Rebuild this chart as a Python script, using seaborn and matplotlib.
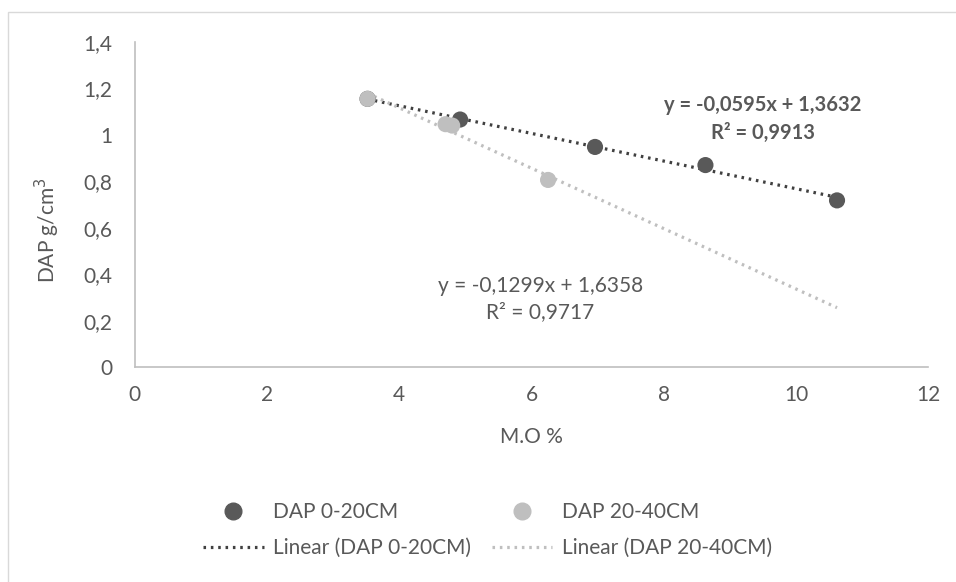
import numpy as np
import pandas as pd
import seaborn as sns
import matplotlib.pyplot as plt
from matplotlib.lines import Line2D

# Data
mo_0_20 = [3.52, 4.92, 6.96, 8.63, 10.62]
dap_0_20 = [1.155, 1.066, 0.948, 0.870, 0.718]
mo_20_40 = [3.52, 4.70, 4.80, 6.25]
dap_20_40 = [1.155, 1.046, 1.040, 0.806]

# Trendline coefficients (from the equations on the chart) and their x-span
slope_0_20, icpt_0_20 = -0.0595, 1.3632
slope_20_40, icpt_20_40 = -0.1299, 1.6358
trend_x = [3.52, 10.62]

dark = '#595959'
light = '#BFBFBF'
text_col = '#595959'
dots = (0, (0.8, 1.5))

df1 = pd.DataFrame({'x': mo_0_20, 'y': dap_0_20})
df2 = pd.DataFrame({'x': mo_20_40, 'y': dap_20_40})
tx = np.array(trend_x)
t1 = pd.DataFrame({'x': tx, 'y': slope_0_20 * tx + icpt_0_20})
t2 = pd.DataFrame({'x': tx, 'y': slope_20_40 * tx + icpt_20_40})

sns.set_style('white')
plt.rcParams['font.family'] = ['Lato', 'DejaVu Sans']

fig = plt.figure(figsize=(9.56, 5.82), dpi=100)
ax = fig.add_axes([0.141, 0.369, 0.830, 0.559])

# trendlines
sns.lineplot(data=t1, x='x', y='y', ax=ax, color='#404040', linestyle=dots,
             linewidth=2.3, zorder=2)
sns.lineplot(data=t2, x='x', y='y', ax=ax, color=light, linestyle=dots,
             linewidth=2.3, zorder=2)

# points
sns.scatterplot(data=df1, x='x', y='y', ax=ax, color=dark, s=135, edgecolor='none', zorder=3)
sns.scatterplot(data=df2, x='x', y='y', ax=ax, color=light, s=135, edgecolor='none', zorder=4)

ax.set_xlim(0, 12)
ax.set_ylim(0, 1.4)
ax.set_xticks(range(0, 13, 2))
yt = np.arange(0, 1.41, 0.2)
ax.set_yticks(yt)
ax.set_yticklabels(['0' if v == 0 else ('1' if abs(v - 1) < 1e-9 else f'{v:.1f}'.replace('.', ','))
                    for v in yt])
ax.tick_params(axis='both', colors=text_col, labelsize=15, length=0)
ax.tick_params(axis='x', pad=13)
ax.tick_params(axis='y', pad=16)
for side in ['top', 'right']:
    ax.spines[side].set_visible(False)
for side in ['left', 'bottom']:
    ax.spines[side].set_color('#BFBFBF')
    ax.spines[side].set_linewidth(1.2)

ax.set_xlabel('M.O %', color=text_col, fontsize=15)
ax.set_ylabel('DAP g/cm$^3$', color=text_col, fontsize=15)
ax.xaxis.set_label_coords(0.5, -0.215)
ax.xaxis.label.set_va('center')
ax.yaxis.set_label_coords(-0.11, 0.42)
ax.yaxis.label.set_va('center')

# equation labels
ax.text(9.5, 1.07, 'y = -0,0595x + 1,3632\nR² = 0,9913', ha='center', va='center',
        fontsize=14.5, fontweight='bold', color=text_col, linespacing=1.5)
ax.text(6.13, 0.293, 'y = -0,1299x + 1,6358\nR² = 0,9717', ha='center', va='center',
        fontsize=15, color=text_col, linespacing=1.4)

# legend
handles = [
    Line2D([], [], marker='o', linestyle='none', color=dark, markersize=12),
    Line2D([], [], color='#404040', linestyle=dots, linewidth=2.3),
    Line2D([], [], marker='o', linestyle='none', color=light, markersize=12),
    Line2D([], [], color=light, linestyle=dots, linewidth=2.3),
]
labels = ['DAP 0-20CM', 'Linear (DAP 0-20CM)', 'DAP 20-40CM', 'Linear (DAP 20-40CM)']
leg = fig.legend(handles, labels, ncol=2, loc='center', bbox_to_anchor=(0.51, 0.089),
                 frameon=False, fontsize=15, handlelength=2.9, columnspacing=1.0,
                 labelspacing=0.75, handletextpad=0.45, borderpad=0)
for t in leg.get_texts():
    t.set_color(text_col)

# chart frame (only left and top edges visible)
fig.add_artist(plt.Rectangle((8 / 956, -0.05), 1.1, 1 - 12 / 582 + 0.05,
                             transform=fig.transFigure, fill=False,
                             edgecolor='#D9D9D9', linewidth=1))

fig.savefig('out.png', dpi=100)
